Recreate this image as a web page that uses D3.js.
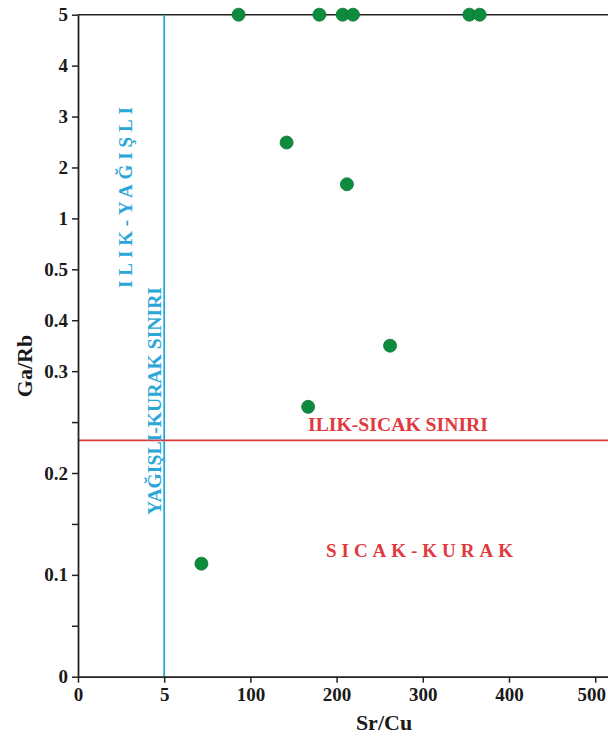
<!DOCTYPE html>
<html>
<head>
<meta charset="utf-8">
<script src="https://cdnjs.cloudflare.com/ajax/libs/d3/7.8.5/d3.min.js"></script>
<style>
  body { margin: 0; background: #fff; }
  text { font-family: "Liberation Serif", "Times New Roman", serif; font-weight: bold; }
</style>
</head>
<body>
<svg width="608" height="738"></svg>
<script>
// data
var srCu = [87, 180, 207, 219, 354, 366, 142, 212, 262, 167, 46]
var gaRb = [5, 5, 5, 5, 5, 5, 2.49, 1.67, 0.35, 0.265, 0.111]

// the axes are not linear: every tick is equally spaced
var xTicks = [0, 5, 100, 200, 300, 400, 500]
var yTicks = [0, 0.05, 0.1, 0.15, 0.2, 0.25, 0.3, 0.4, 0.5, 1, 2, 3, 4, 5]
var yLabels = [0, 0.1, 0.2, 0.3, 0.4, 0.5, 1, 2, 3, 4, 5]

var borderSrCu = 5      // yağışlı-kurak sınırı
var borderGaRb = 0.232  // ılık-sıcak sınırı

var plotLeft = 78, plotBottom = 676.7, plotTop = 14.7, stepX = 86.2
var stepY = (plotBottom - plotTop) / (yTicks.length - 1)

var xDomain = xTicks.concat([600])
var mapX = d3.scaleLinear()
    .domain(xDomain)
    .range(xDomain.map(function(d, i) { return plotLeft + i * stepX }))

var mapY = d3.scaleLinear()
    .domain(yTicks)
    .range(yTicks.map(function(d, i) { return plotBottom - i * stepY }))

var svg = d3.select('svg')

// top frame line
svg.append('line')
    .attr('x1', plotLeft).attr('x2', 608)
    .attr('y1', mapY(5)).attr('y2', mapY(5))
    .attr('stroke', '#222').attr('stroke-width', 1.6)

// boundary lines
svg.append('line')
    .attr('x1', mapX(borderSrCu)).attr('x2', mapX(borderSrCu))
    .attr('y1', mapY(5)).attr('y2', plotBottom)
    .attr('stroke', '#2aa7d6').attr('stroke-width', 1.8)

svg.append('line')
    .attr('x1', plotLeft).attr('x2', 608)
    .attr('y1', mapY(borderGaRb)).attr('y2', mapY(borderGaRb))
    .attr('stroke', '#e0393e').attr('stroke-width', 1.6)

var xAxis = d3.axisBottom(mapX)
    .tickValues(xTicks)
    .tickSize(6).tickPadding(5)
    .tickSizeOuter(0)
    .tickFormat(d3.format('d'))

var yAxis = d3.axisLeft(mapY)
    .tickValues(yTicks)
    .tickSize(6).tickPadding(4)
    .tickSizeOuter(0)
    .tickFormat(function(d) { return yLabels.indexOf(d) >= 0 ? d : '' })

var gx = svg.append('g')
    .attr('transform', 'translate(0,' + plotBottom + ')')
    .call(xAxis)
var gy = svg.append('g')
    .attr('transform', 'translate(' + plotLeft + ',0)')
    .call(yAxis)

;[gx, gy].forEach(function(g) {
    g.select('.domain').attr('stroke', '#222').attr('stroke-width', 1.8)
    g.selectAll('.tick line').attr('stroke', '#222').attr('stroke-width', 1.5)
    g.selectAll('.tick text')
        .attr('fill', '#1a1a1a')
        .style('font-size', '19px')
        .style('font-family', '"Liberation Serif", serif')
        .style('font-weight', 'bold')
})
// last x label sits a bit left in the reference, keep it inside the frame
gx.selectAll('.tick text').filter(function(d) { return d === 500 }).attr('dx', -4)

// points
svg.selectAll('circle')
    .data(srCu)
    .enter()
    .append('circle')
    .attr('r', 6.5)
    .attr('cx', function(d) { return mapX(d) })
    .attr('cy', function(d, i) { return mapY(gaRb[i]) })
    .attr('fill', '#0e8c3e')
    .attr('stroke', '#0b7533')
    .attr('stroke-width', 0.8)

// labels
svg.append('text')
    .attr('x', 384).attr('y', 730)
    .attr('text-anchor', 'middle')
    .style('font-size', '22px')
    .attr('fill', '#1a1a1a')
    .text('Sr/Cu')

svg.append('text')
    .attr('transform', 'translate(32,366) rotate(-90)')
    .attr('text-anchor', 'middle')
    .style('font-size', '22px')
    .attr('fill', '#1a1a1a')
    .text('Ga/Rb')

svg.append('text')
    .attr('x', 398).attr('y', 430.5)
    .attr('text-anchor', 'middle')
    .attr('textLength', 180).attr('lengthAdjust', 'spacingAndGlyphs')
    .style('font-size', '19px')
    .attr('fill', '#e0393e')
    .text('ILIK-SICAK SINIRI')

svg.append('text')
    .attr('x', 419.5).attr('y', 556.5)
    .attr('text-anchor', 'middle')
    .attr('textLength', 187).attr('lengthAdjust', 'spacing')
    .style('font-size', '19px')
    .attr('fill', '#e0393e')
    .text('SICAK-KURAK')

svg.append('text')
    .attr('transform', 'translate(132,197.5) rotate(-90)')
    .attr('text-anchor', 'middle')
    .attr('textLength', 181).attr('lengthAdjust', 'spacing')
    .style('font-size', '19px')
    .attr('fill', '#2aa7d6')
    .text('ILIK-YAĞIŞLI')

svg.append('text')
    .attr('transform', 'translate(161,401) rotate(-90)')
    .attr('text-anchor', 'middle')
    .attr('textLength', 228).attr('lengthAdjust', 'spacingAndGlyphs')
    .style('font-size', '19px')
    .attr('fill', '#2aa7d6')
    .text('YAĞIŞLI-KURAK SINIRI')
</script>
</body>
</html>
